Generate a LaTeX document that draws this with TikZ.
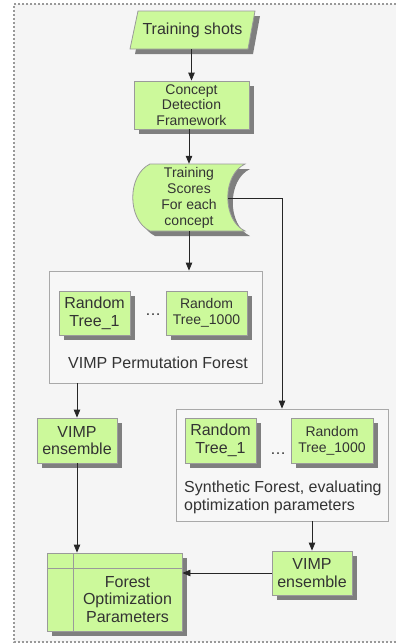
\documentclass[tikz,border=0pt]{standalone}
\usepackage{fontspec}
\setmainfont{Liberation Sans}
\usetikzlibrary{shadows,arrows.meta}
\definecolor{lg}{HTML}{CCF99B}
\definecolor{bd}{HTML}{9A9A9A}
\definecolor{sh}{HTML}{7F7F7F}
\definecolor{bgc}{HTML}{F5F5F5}
\definecolor{tx}{HTML}{333333}
\begin{document}
\begin{tikzpicture}[x=1pt,y=-1pt,
  gbox/.style={draw=bd, fill=lg, text=tx, align=center, inner sep=0pt, line width=0.8pt,
    drop shadow={shadow xshift=5pt,shadow yshift=-5pt,fill=sh,opacity=1}},
  fsa/.style={font=\fontsize{14}{15.5}\selectfont},
  fsb/.style={font=\fontsize{14}{16}\selectfont},
  fsc/.style={font=\fontsize{16}{17.5}\selectfont},
  fsd/.style={font=\fontsize{16}{18}\selectfont},
  frame/.style={draw=bd!85, fill=white!97!black, line width=0.8pt, inner sep=0pt},
  conn/.style={draw=black!85, line width=0.8pt},
  arr/.style={conn, -{Triangle[length=8pt,width=6.5pt]}},
  plain/.style={text=tx, inner sep=0pt}]

\useasboundingbox (0,0) rectangle (396,643);
\fill[bgc] (14,4) rectangle (400,642);
\draw[gray!80, line width=1.2pt, dash pattern=on 2pt off 2pt] (400,4) -- (14,4) -- (14,642) -- (400,642);

% Training shots (parallelogram)
\fill[sh] (143,16) -- (260,16) -- (253,54) -- (135,54) -- cycle;
\draw[bd, fill=lg, line width=0.8pt] (138,11) -- (255,11) -- (248,49) -- (130,49) -- cycle;
\node[plain, fsc, minimum width=110pt, minimum height=38pt] (shots) at (192.5,30) {Training shots};

% Concept Detection Framework
\node[gbox, fsa, minimum width=115pt, minimum height=48pt] (cdf) at (191.5,105) {Concept\\Detection\\Framework};

% Training Scores (stored data)
\fill[sh, shift={(5,5)}] (150,164) -- (245,164) .. controls (222,175) and (222,220) .. (245,231) -- (150,231) .. controls (127,220) and (127,175) .. (150,164) -- cycle;
\draw[bd, fill=lg, line width=0.8pt] (150,164) -- (245,164) .. controls (222,175) and (222,220) .. (245,231) -- (150,231) .. controls (127,220) and (127,175) .. (150,164) -- cycle;
\node[plain, fsb, align=center, minimum width=112pt, minimum height=67pt] (ts) at (189,197.5) {Training\\Scores\\For each\\concept};
\coordinate (tsR) at (228,198);

% VIMP Permutation Forest
\node[frame, minimum width=213pt, minimum height=112pt] (fa) at (155.5,327) {};
\node[gbox, fsd, minimum width=71pt, minimum height=44pt] (rt1a) at (94.5,313) {Random\\Tree\_1};
\node[gbox, fsb, minimum width=81pt, minimum height=44pt] (rtka) at (206.5,313) {Random\\Tree\_1000};
\node[plain, fsc, anchor=base] (dotsa) at (153,315) {…};
\node[plain, fsc] (laba) at (158,363) {VIMP Permutation Forest};

% Synthetic Forest
\node[frame, minimum width=212pt, minimum height=112pt] (fb) at (282,465) {};
\node[gbox, fsd, minimum width=71pt, minimum height=45pt] (rt1b) at (220.5,440.5) {Random\\Tree\_1};
\node[gbox, fsb, minimum width=82pt, minimum height=45pt] (rtkb) at (332,440.5) {Random\\Tree\_1000};
\node[plain, fsc, anchor=base] (dotsb) at (278,454) {…};
\node[plain, fsd, align=left, anchor=west] (labb) at (184,497) {Synthetic Forest, evaluating\\optimization parameters};

% VIMP ensembles
\node[gbox, fsc, minimum width=80pt, minimum height=45pt] (vimpL) at (77,440.5) {VIMP\\ensemble};
\node[gbox, fsc, minimum width=80pt, minimum height=44pt] (vimpR) at (312,573) {VIMP\\ensemble};

% Forest Optimization Parameters (internal storage)
\node[gbox, minimum width=135pt, minimum height=78pt] (fop) at (114.5,592) {};
\draw[bd, line width=0.8pt] (73,553) -- (73,631);
\draw[bd, line width=0.8pt] (47,568) -- (182,568);
\node[plain, fsc, align=center] (fopt) at (127.5,599.5) {Forest\\Optimization\\Parameters};

% connectors
\draw[arr] (shots.south -| cdf.north) -- (cdf.north);
\draw[arr] (cdf.south -| ts.north) -- (ts.north);
\draw[arr] (ts.south) -- (ts.south |- fa.north);
\draw[arr] (tsR) -| (fb.north);
\draw[arr] (fa.south -| vimpL.north) -- (vimpL.north);
\draw[arr] (vimpL.south) -- (vimpL.south |- fop.north);
\draw[arr] (fb.south -| vimpR.north) -- (vimpR.north);
\draw[arr] (vimpR.west) -- (vimpR.west -| fop.east);
\end{tikzpicture}
\end{document}
